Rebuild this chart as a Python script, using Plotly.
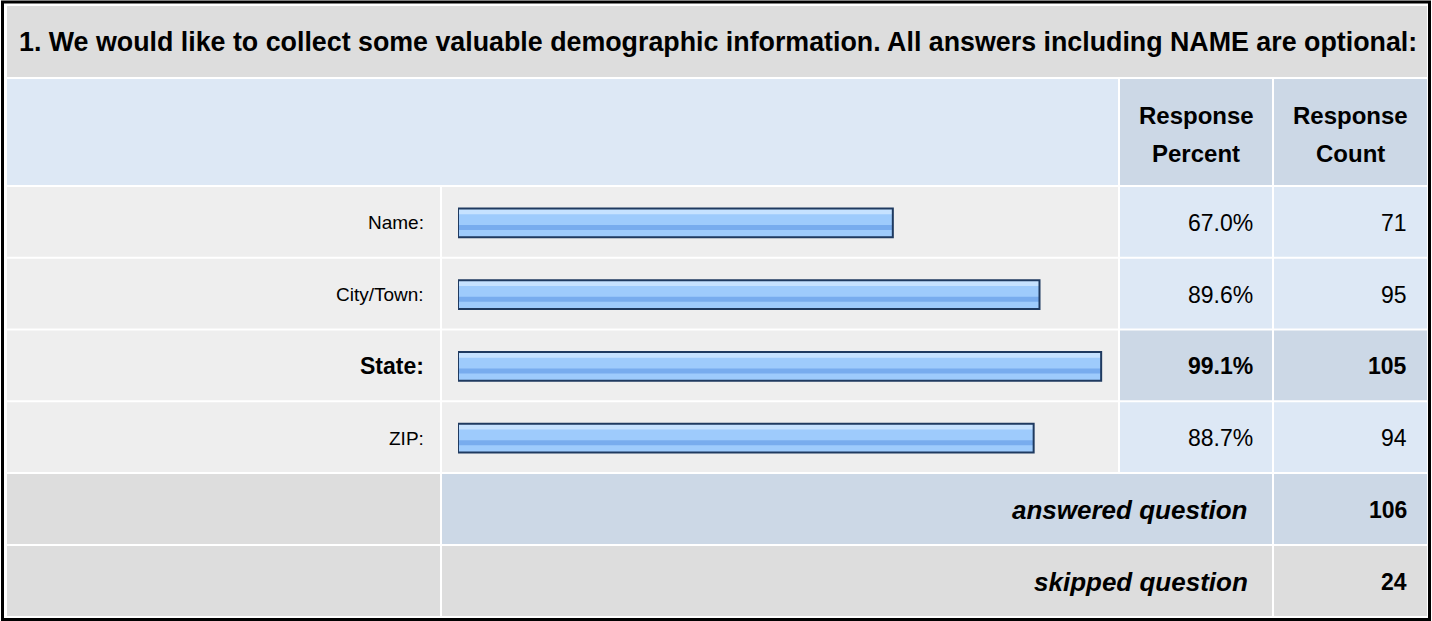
import plotly.graph_objects as go

# ---- data ----
question = "1. We would like to collect some valuable demographic information. All answers including NAME are optional:"
categories = ["Name:", "City/Town:", "State:", "ZIP:"]
percents = [67.0, 89.6, 99.1, 88.7]
counts = [71, 95, 105, 94]
highlight = [False, False, True, False]
answered_label = "answered question"
answered_count = 106
skipped_label = "skipped question"
skipped_count = 24
col_headers = [["Response", "Percent"], ["Response", "Count"]]

W, H = 1432, 621
FONT = "Liberation Sans, Arial, sans-serif"

def px(x):
    return x / W

def py(y):
    return 1 - y / H

shapes = []
annotations = []

def cell(x0, x1, y0, y1, color):
    shapes.append(dict(type="rect", xref="paper", yref="paper",
                       x0=px(x0), x1=px(x1), y0=py(y1), y1=py(y0),
                       fillcolor=color, line=dict(width=0), layer="below"))

def text(s, x, y, anchor="right", size=20, bold=False, italic=False):
    t = s
    if bold:
        t = "<b>" + t + "</b>"
    if italic:
        t = "<i>" + t + "</i>"
    annotations.append(dict(text=t, x=px(x), y=py(y), xref="paper", yref="paper",
                            xanchor=anchor, yanchor="middle", showarrow=False,
                            font=dict(family=FONT, size=size, color="#000000")))

GREY = "#dddddd"
LIGHT = "#eeeeee"
BLUE = "#dde8f5"
BLUE2 = "#ccd8e6"

# outer border
shapes.append(dict(type="rect", xref="paper", yref="paper",
                   x0=px(2.5), x1=px(1429.5), y0=py(619.5), y1=py(2),
                   fillcolor="rgba(0,0,0,0)", line=dict(width=3, color="#000000"), layer="below"))

# title row
cell(7, 1427, 6, 77, GREY)
text(question, 17, 42, anchor="left", size=26.8, bold=True)

# header row
cell(7, 1118, 79, 185, BLUE)
cell(1120, 1272, 79, 185, BLUE2)
cell(1274, 1427, 79, 185, BLUE2)
for (l1, l2), cx in zip(col_headers, [1196, 1350]):
    text(l1, cx, 116, anchor="center", size=24, bold=True)
    text(l2, cx, 153, anchor="center", size=24, bold=True)

# data rows
row_top = 187
row_h = 71.75
for i, (cat, p, c, hl) in enumerate(zip(categories, percents, counts, highlight)):
    y0 = row_top + i * row_h
    y1 = y0 + row_h - 2
    yc = (y0 + y1) / 2 + 1
    cell(7, 440, y0, y1, LIGHT)
    cell(442, 1118, y0, y1, LIGHT)
    cell(1120, 1272, y0, y1, BLUE2 if hl else BLUE)
    cell(1274, 1427, y0, y1, BLUE2 if hl else BLUE)
    text(cat, 426, yc, size=23 if hl else 19, bold=hl)
    text(f"{p:.1f}%", 1255, yc, size=23, bold=hl)
    text(str(c), 1409, yc, size=23, bold=hl)

# footer rows
fy = row_top + 4 * row_h
cell(7, 440, fy, fy + 70, GREY)
cell(442, 1272, fy, fy + 70, BLUE2)
cell(1274, 1427, fy, fy + 70, BLUE2)
text(answered_label, 1250, fy + 36, size=26, bold=True, italic=True)
text(str(answered_count), 1409, fy + 36, size=23, bold=True)
fy2 = fy + 72
cell(7, 440, fy2, fy2 + 70, GREY)
cell(442, 1272, fy2, fy2 + 70, GREY)
cell(1274, 1427, fy2, fy2 + 70, GREY)
text(skipped_label, 1250, fy2 + 36, size=26, bold=True, italic=True)
text(str(skipped_count), 1409, fy2 + 36, size=23, bold=True)

fig = go.Figure()
common = dict(y=categories, x=percents, orientation="h", hoverinfo="skip", showlegend=False)
fig.add_trace(go.Bar(**common, width=0.4, offset=-0.2, marker=dict(color="#9ecbfc", line=dict(width=0))))
fig.add_trace(go.Bar(**common, width=0.08, offset=-0.2, marker=dict(color="#c6e2ff", line=dict(width=0))))
fig.add_trace(go.Bar(**common, width=0.07, offset=0.03, marker=dict(color="#78acee", line=dict(width=0))))
fig.add_trace(go.Bar(**common, width=0.4, offset=-0.2,
                     marker=dict(color="rgba(0,0,0,0)", line=dict(width=2, color="#1f3a60"))))

fig.update_layout(
    width=W, height=H, autosize=False,
    margin=dict(l=0, r=0, t=0, b=0),
    paper_bgcolor="#ffffff", plot_bgcolor="rgba(0,0,0,0)",
    barmode="overlay",
    xaxis=dict(range=[0, 100], domain=[px(458), px(1107)], visible=False, fixedrange=True),
    yaxis=dict(categoryorder="array", categoryarray=categories, autorange="reversed",
               domain=[py(row_top + 4 * row_h), py(row_top)], visible=False, fixedrange=True),
    shapes=shapes, annotations=annotations,
)

fig.write_html("out.html", config={"displayModeBar": False},
               post_script="document.body.style.margin='0';document.body.style.overflow='hidden';")
